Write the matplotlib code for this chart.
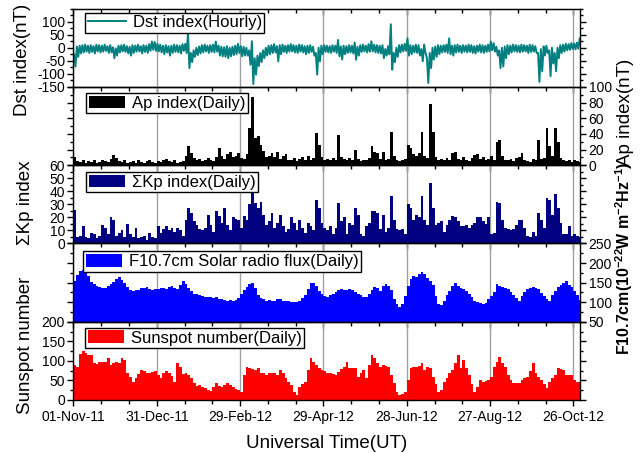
import numpy as np
import matplotlib
matplotlib.use('Agg')
import matplotlib.pyplot as plt
import matplotlib.dates as mdates
from matplotlib.ticker import MultipleLocator, FixedLocator

plt.rcParams['font.family'] = ['Liberation Sans', 'DejaVu Sans']
plt.rcParams['mathtext.default'] = 'regular'
plt.rcParams['axes.unicode_minus'] = False

START = '2011-11-01'
STEP = 2  # values in 2-day bins

# Ap index (nT), one value per 2-day bin
ap = [10, 5, 4, 6, 3, 5, 4, 6, 3, 4,
      7, 5, 4, 8, 13, 9, 5, 4, 6, 3,
      4, 5, 3, 6, 4, 3, 5, 7, 4, 3,
      5, 4, 6, 8, 5, 4, 6, 3, 4, 5,
      12, 25, 15, 9, 6, 8, 5, 7, 9, 6,
      5, 10, 22, 12, 8, 14, 17, 10, 12, 15,
      9, 8, 14, 47, 87, 35, 37, 26, 18, 10,
      12, 15, 10, 17, 8, 12, 14, 7, 6, 9,
      5, 8, 10, 7, 12, 6, 9, 41, 26, 10,
      7, 8, 6, 9, 7, 39, 10, 8, 6, 9,
      7, 20, 8, 5, 7, 6, 9, 25, 17, 15,
      8, 17, 6, 8, 43, 12, 7, 5, 6, 8,
      26, 22, 14, 12, 15, 42, 12, 9, 78, 43,
      10, 7, 8, 6, 9, 7, 15, 17, 8, 6,
      10, 7, 5, 9, 13, 14, 8, 10, 7, 8,
      12, 6, 30, 32, 12, 7, 6, 8, 5, 9,
      10, 15, 7, 5, 4, 8, 6, 32, 8, 9,
      47, 25, 12, 47, 30, 9, 6, 5, 7, 4,
      6, 5, 4]

# sum of Kp
kp = [26, 5, 6, 13, 5, 4, 8, 7, 4, 6,
      14, 12, 7, 20, 18, 6, 8, 10, 5, 15,
      7, 5, 12, 4, 5, 6, 3, 8, 5, 4,
      13, 8, 11, 13, 10, 12, 9, 12, 10, 6,
      18, 27, 23, 17, 14, 11, 10, 12, 22, 14,
      9, 25, 21, 16, 27, 14, 10, 20, 19, 18,
      12, 21, 18, 30, 44, 31, 27, 32, 22, 14,
      17, 23, 12, 16, 22, 13, 9, 11, 20, 16,
      10, 18, 12, 8, 16, 13, 10, 33, 27, 16,
      12, 10, 13, 7, 12, 31, 17, 20, 7, 16,
      14, 27, 22, 7, 6, 13, 16, 25, 25, 23,
      11, 22, 9, 12, 36, 18, 11, 10, 11, 7,
      30, 27, 18, 22, 20, 36, 18, 14, 46, 27,
      14, 16, 17, 9, 14, 18, 21, 20, 17, 13,
      13, 14, 12, 14, 16, 20, 20, 17, 15, 20,
      7, 8, 32, 31, 18, 12, 11, 10, 11, 14,
      18, 18, 12, 6, 5, 9, 6, 23, 18, 12,
      35, 33, 22, 38, 27, 16, 7, 7, 13, 6,
      7, 6, 5]

# F10.7 solar radio flux
f107 = [155, 170, 180, 182, 176, 168, 152, 146, 142, 139,
        137, 136, 140, 146, 152, 160, 163, 156, 148, 138,
        132, 128, 130, 131, 135, 137, 138, 134, 131, 133,
        134, 136, 135, 134, 138, 142, 137, 134, 145, 155,
        146, 137, 129, 122, 120, 117, 115, 112, 113, 112,
        111, 112, 109, 108, 106, 104, 105, 104, 106, 110,
        122, 130, 139, 146, 150, 136, 118, 110, 107, 104,
        105, 104, 104, 107, 108, 104, 103, 102, 101, 100,
        101, 102, 110, 118, 134, 148, 150, 142, 128, 120,
        116, 114, 117, 121, 126, 132, 134, 131, 131, 134,
        130, 125, 121, 117, 113, 112, 122, 130, 139, 135,
        129, 140, 146, 140, 132, 108, 95, 87, 95, 115,
        140, 159, 167, 163, 172, 178, 172, 162, 155, 145,
        115, 94, 92, 104, 118, 129, 142, 150, 140, 136,
        134, 128, 120, 112, 104, 100, 97, 96, 99, 107,
        115, 125, 146, 142, 138, 135, 133, 125, 117, 110,
        104, 115, 125, 133, 136, 138, 136, 133, 124, 115,
        107, 104, 118, 128, 138, 144, 148, 155, 145, 138,
        128, 118, 106]

# sunspot number
ssn = [90, 85, 118, 124, 120, 115, 114, 94, 92, 96,
       98, 97, 107, 90, 94, 98, 95, 108, 103, 68,
       58, 47, 55, 66, 77, 73, 70, 68, 72, 73,
       64, 56, 68, 73, 70, 62, 47, 94, 85, 66,
       68, 65, 56, 43, 36, 38, 33, 30, 26, 22,
       34, 43, 36, 34, 38, 43, 38, 34, 28, 25,
       21, 64, 85, 81, 78, 77, 81, 68, 68, 64,
       68, 68, 68, 64, 77, 68, 55, 45, 38, 21,
       13, 34, 42, 47, 77, 107, 98, 90, 82, 77,
       73, 68, 68, 66, 64, 72, 79, 85, 98, 81,
       81, 81, 60, 68, 77, 56, 90, 115, 107, 95,
       85, 90, 88, 85, 64, 43, 20, 13, 15, 21,
       51, 81, 85, 85, 88, 94, 77, 85, 81, 60,
       40, 21, 26, 47, 55, 70, 77, 94, 115, 81,
       103, 81, 64, 40, 21, 34, 51, 47, 49, 51,
       60, 85, 98, 111, 95, 85, 64, 51, 43, 43,
       43, 50, 56, 60, 75, 94, 68, 60, 51, 40,
       30, 47, 56, 64, 81, 79, 77, 64, 64, 64,
       51, 47, 45]

# Dst: highest and lowest hourly value inside each 2-day bin
dst_hi = [-25, 5, 8, 10, 12, 8, 10, 6, 12, 10,
          8, 12, 6, 10, 2, -2, 8, 10, 12, 6,
          4, 10, 8, 12, 6, 10, 8, 14, 24, 22,
          15, 12, 8, 10, 6, 8, 12, 10, 8, 14,
          15, 56, -20, -10, 0, 5, 10, 12, 8, 10,
          12, 24, 8, 4, 2, 6, 0, 4, 8, 15,
          6, 4, 0, -10, 25, -40, -30, -20, -10, 0,
          8, 10, 14, 6, 10, 12, 8, 10, 14, 10,
          8, 12, 10, 6, 8, 10, 4, -20, 0, 8,
          10, 8, 6, 10, 8, 30, 5, 8, 6, 10,
          8, 20, 4, 10, 12, 8, 14, 25, 12, 10,
          8, 10, -5, 6, 90, -20, 0, 10, 12, 15,
          36, 10, 8, 12, 10, -5, 12, -40, -20, 0,
          5, 10, 8, 10, 12, 36, 8, 10, 12, 8,
          10, 8, 12, 10, 6, 8, 12, 10, 8, 12,
          24, 18, 4, -10, 0, 5, 10, 8, 12, 10,
          8, 12, 10, 8, 12, 10, 6, -20, -5, 5,
          8, -10, 0, -20, 0, 10, 12, 15, 14, 18,
          16, 20, 36]
dst_lo = [-72, -35, -22, -18, -15, -20, -16, -22, -14, -18,
          -15, -12, -20, -18, -40, -30, -18, -14, -16, -22,
          -30, -20, -15, -14, -22, -16, -20, -12, -8, -12,
          -14, -18, -25, -18, -30, -20, -16, -18, -22, -12,
          -20, -78, -55, -35, -28, -22, -18, -14, -20, -16,
          -18, -15, -30, -33, -35, -40, -33, -28, -25, -20,
          -33, -30, -30, -65, -139, -103, -70, -55, -40, -30,
          -25, -20, -18, -52, -25, -16, -20, -15, -14, -18,
          -20, -15, -18, -25, -20, -16, -30, -103, -52, -25,
          -16, -18, -20, -15, -20, -33, -45, -25, -20, -18,
          -22, -46, -30, -16, -14, -18, -15, -14, -18, -20,
          -22, -40, -30, -25, -84, -55, -35, -18, -14, -12,
          -30, -25, -18, -20, -30, -52, -20, -135, -78, -45,
          -35, -25, -18, -16, -20, -25, -30, -18, -16, -20,
          -15, -18, -16, -20, -22, -15, -18, -20, -16, -14,
          -10, -15, -30, -78, -72, -40, -25, -18, -14, -16,
          -18, -15, -14, -20, -16, -15, -20, -131, -90, -30,
          -20, -109, -60, -90, -40, -20, -15, -10, -8, -5,
          -6, -4, 2]

tick_dates = ['2011-11-01', '2011-12-31', '2012-02-29', '2012-04-29',
              '2012-06-28', '2012-08-27', '2012-10-26']

t0 = mdates.date2num(np.datetime64(START))
left = t0 + STEP * np.arange(len(ap))
dst_t = np.column_stack([left + 0.5, left + 1.5]).ravel()
dst = np.column_stack([dst_hi, dst_lo]).ravel()
major = [mdates.date2num(np.datetime64(d)) for d in tick_dates]
minor = t0 + np.arange(0, 366, 20)

fig, axs = plt.subplots(5, 1, sharex=True, figsize=(6.4, 4.53), dpi=100)
fig.subplots_adjust(left=0.1147, right=0.9069, top=0.981, bottom=0.117, hspace=0)

axs[0].plot(dst_t, dst, color='#008080', lw=1.4, label='Dst index(Hourly)')
axs[1].bar(left, ap, width=STEP, align='edge', color='black', lw=0, label='Ap index(Daily)')
axs[2].bar(left, kp, width=STEP, align='edge', color='#000080', lw=0, label='\u03a3Kp index(Daily)')
axs[3].bar(left, f107, width=STEP, align='edge', color='#0000ff', lw=0,
           label='F10.7cm Solar radio flux(Daily)')
axs[4].bar(left, ssn, width=STEP, align='edge', color='#ff0000', lw=0, label='Sunspot number(Daily)')

# (ylim, major step, minor step, labels on right?)
yset = [((-150, 150), 50, 25, False), ((0, 100), 20, 10, True), ((0, 60), 10, 5, False),
        ((50, 250), 50, 25, True), ((0, 200), 50, 25, False)]
leg_pos = [(0.023, 0.949), (0.025, 0.92), (0.025, 0.91), (0.019, 0.898), (0.023, 0.92)]

for i, ax in enumerate(axs):
    lim, mj, mn, right = yset[i]
    ax.set_ylim(*lim)
    top_tick = lim[1] if i != 0 else 100
    ax.set_yticks(np.arange(lim[0], top_tick + 1, mj))
    ax.yaxis.set_minor_locator(MultipleLocator(mn))
    ax.tick_params(axis='y', which='both', direction='out', left=True, right=True,
                   labelleft=not right, labelright=right, labelsize=10, width=1, pad=2)
    ax.tick_params(axis='y', which='major', length=4)
    ax.tick_params(axis='y', which='minor', length=2)
    ax.set_xlim(t0, t0 + 365)
    ax.xaxis.set_major_locator(FixedLocator(major))
    ax.xaxis.set_minor_locator(FixedLocator(minor))
    ax.xaxis.set_major_formatter(mdates.DateFormatter('%d-%b-%y'))
    ax.tick_params(axis='x', which='both', direction='out', bottom=True, top=False,
                   labelbottom=(i == 4), labelsize=10, width=1)
    ax.tick_params(axis='x', which='major', length=4)
    ax.tick_params(axis='x', which='minor', length=3)
    ax.grid(axis='x', which='major', color='#a0a0a0', lw=1)
    ax.set_axisbelow(True)
    ax.patch.set_visible(False)
    for s in ax.spines.values():
        s.set_linewidth(1)
    if i == 0:
        hl, hh = 2.3, 0.7
    else:
        hl, hh = 2.2, 0.8
    leg = ax.legend(loc='upper left', bbox_to_anchor=leg_pos[i], borderaxespad=0,
                    fontsize=12, frameon=True, fancybox=False, framealpha=1,
                    edgecolor='black', borderpad=0.15, handlelength=hl,
                    handleheight=hh, handletextpad=0.4)
    leg.get_frame().set_linewidth(1)

top = axs[0].secondary_xaxis('top')
top.xaxis.set_major_locator(FixedLocator(major))
top.xaxis.set_minor_locator(FixedLocator(minor))
top.tick_params(axis='x', which='both', direction='in', labeltop=False, width=1)
top.tick_params(axis='x', which='major', length=4)
top.tick_params(axis='x', which='minor', length=3)

fig.text(23 / 640, 1 - 60 / 453, 'Dst index(nT)', rotation=90, ha='center', va='center', fontsize=13.5)
fig.text(25 / 640, 1 - 203 / 453, '\u03a3Kp index', rotation=90, ha='center', va='center', fontsize=13.5)
fig.text(26 / 640, 1 - 345 / 453, 'Sunspot number', rotation=90, ha='center', va='center', fontsize=13.5)
fig.text(626 / 640, 1 - 112 / 453, 'Ap index(nT)', rotation=90, ha='center', va='center', fontsize=13.5)
fig.text(624 / 640, 1 - 258 / 453, 'F10.7cm(10$^{-22}$W m$^{-2}$Hz$^{-1}$)', rotation=90,
         ha='center', va='center', fontsize=11.5, fontweight='bold')
fig.text(327 / 640, 1 - 443 / 453, 'Universal Time(UT)', ha='center', va='center', fontsize=13.5)

fig.savefig('out.png', dpi=100)
